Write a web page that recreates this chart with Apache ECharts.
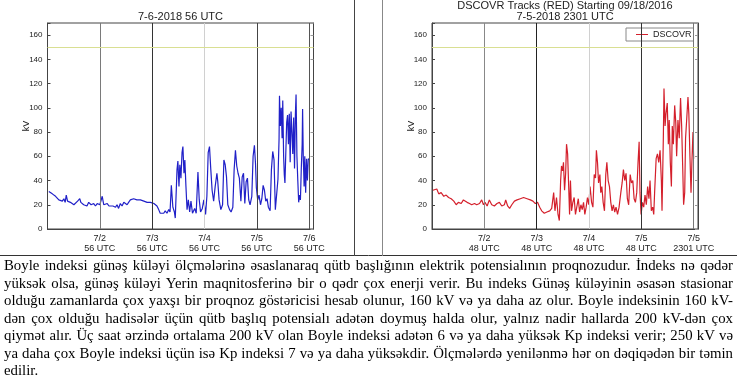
<!DOCTYPE html>
<html><head><meta charset="utf-8">
<script src="https://cdn.jsdelivr.net/npm/echarts@6/dist/echarts.min.js"></script>
<style>
html,body{margin:0;padding:0;background:#fff;}
#chart{position:absolute;left:0;top:0;width:737px;height:376px;}
#para{position:absolute;left:4px;top:257px;width:729px;font-family:"Liberation Serif","Times New Roman",serif;font-size:14.8px;line-height:17.5px;color:#000;}
#para div{white-space:nowrap;height:17.5px;}
#para span{display:inline-block;white-space:pre;}
</style></head><body>
<div id="chart"></div>
<div id="para"></div>
<script>
// ---- data ----
const tickHours = [24, 48, 72, 96, 120];
const leftTickLabels = ['7/2\n56 UTC', '7/3\n56 UTC', '7/4\n56 UTC', '7/5\n56 UTC', '7/6\n56 UTC'];
const rightTickLabels = ['7/2\n48 UTC', '7/3\n48 UTC', '7/4\n48 UTC', '7/5\n48 UTC', '7/5\n2301 UTC'];
const leftTitle = '7-6-2018 56 UTC';
const rightTitle1 = 'DSCOVR Tracks (RED) Starting 09/18/2016';
const rightTitle2 = '7-5-2018 2301 UTC';
const thresholdKV = 150;

const leftHours = [
0.6,1.4,2.2,2.9,3.7,4.5,5.2,6.0,6.8,7.5,
8.1,8.6,9.2,9.8,10.5,11.3,12.1,12.9,13.8,14.8,
15.3,15.9,16.6,17.4,18.1,18.9,20.0,21.2,22.0,22.8,
23.5,24.0,24.6,25.1,25.8,26.6,27.4,28.2,28.9,30.0,
31.2,31.9,32.6,33.4,34.2,35.0,35.7,36.5,37.2,38.0,
38.8,39.5,40.3,41.0,41.8,42.6,43.4,44.2,44.9,45.7,
46.4,47.2,48.0,48.8,49.5,50.2,51.0,51.7,52.5,53.3,
54.0,54.8,55.6,56.2,
56.8,57.5,58.2,58.6,59.4,59.8,60.3,60.7,61.2,61.7,
62.1,62.6,63.0,63.5,64.0,64.6,65.2,65.8,66.5,67.5,
68.2,69.0,69.6,70.2,71.0,71.7,72.5,73.1,73.7,74.3,
74.9,75.5,76.2,76.9,77.7,78.1,78.7,79.5,80.3,80.9,
81.5,82.1,82.7,83.5,84.2,85.0,85.6,86.2,86.8,87.4,
88.0,88.7,89.3,89.9,90.5,91.1,91.7,92.3,92.9,93.7,
94.3,94.9,95.4,95.8,96.4,97.0,97.7,98.3,98.9,99.5,
100.1,100.7,101.3,102.1,102.7,103.3,103.9,104.5,105.1,105.7,
106.2,106.4,106.8,107.2,107.6,107.9,108.3,108.6,108.9,109.3,
109.7,110.1,110.5,110.9,111.3,111.7,112.1,112.5,112.9,113.3,
113.7,114.0,114.4,114.8,115.2,115.6,116.0,116.4,116.8,117.0,
117.3,117.7,118.0,118.4,118.8,119.2,119.6,120.0
];
const leftKV = [
31,31,29,30,27,26,24,24,23,25,
22,28,23,24,22,23,20,21,23,25,
22,23,20,21,19,22,20,21,19,21,
20,20,19,27,20,21,21,19,20,19,
18,20,17,21,19,22,23,20,22,24,
23,25,26,24,25,24,25,23,24,22,
23,22,23,21,21,19,16,13,14,13,
15,13,16,14,
36,18,14,9,49,56,35,53,42,63,
68,46,57,35,16,24,14,23,13,17,
13,47,24,14,17,24,12,27,63,68,
49,32,23,35,46,39,24,16,20,57,
53,43,20,16,14,18,49,65,52,46,
42,23,43,46,21,39,42,24,20,27,
60,69,54,34,24,28,20,25,36,32,
23,25,18,15,49,64,57,16,17,41,
74,110,85,100,75,106,60,45,38,63,
88,94,70,95,55,97,80,62,92,50,
95,111,60,40,22,28,24,50,70,99,
60,35,60,30,58,40,58,57
];

const rightHours = [
0.4,1.2,2.2,3.1,4.2,5.4,6.5,7.6,8.8,10.0,
11.1,12.1,13.4,14.4,15.2,16.1,17.2,18.2,19.5,20.5,
21.8,22.8,23.6,24.3,25.3,26.3,27.4,28.6,29.8,30.9,
32.0,33.2,33.8,34.7,35.6,36.6,37.8,39.0,40.5,42.0,
43.6,45.1,46.3,47.4,48.4,49.4,50.3,51.5,52.7,54.0,
54.9,55.8,56.4,57.1,57.8,58.4,59.0,59.4,59.9,60.3,
60.8,61.3,61.7,62.2,62.6,63.1,63.5,64.0,64.6,65.2,
65.8,66.4,67.1,67.7,68.3,68.9,69.5,70.1,70.7,71.3,
71.9,72.5,73.2,73.8,74.4,75.0,75.4,75.9,76.4,77.0,
77.4,77.9,78.5,79.1,79.7,80.2,80.8,81.4,82.0,82.6,
83.2,83.8,84.4,85.1,85.8,86.6,87.2,87.8,88.4,89.0,
89.6,90.2,90.9,91.5,92.1,92.7,93.3,93.9,94.5,95.0,
95.4,95.9,96.5,97.1,97.7,98.3,98.9,99.5,100.0,100.6,
101.2,101.7,102.1,102.8,103.4,104.0,104.6,105.2,105.5,106.1,
106.4,106.9,107.3,107.9,108.4,108.8,109.3,109.8,110.2,110.7,
111.3,111.8,112.2,112.8,113.4,114.0,114.5,115.0,115.4,115.9,
116.3,116.8,117.4,117.8,118.3,118.8,119.2,119.7,120.0
];
const rightKV = [
32,31,33,29,30,27,28,26,25,23,
20,22,21,24,25,22,21,20,21,20,
21,24,20,22,19,24,20,19,21,22,
19,20,24,19,17,20,23,24,25,26,
25,24,23,21,22,18,15,13,14,15,
17,30,15,26,12,7,40,52,48,55,
32,46,70,62,40,12,40,15,22,26,
12,18,25,14,20,16,22,12,18,26,
20,35,22,18,45,42,65,55,38,45,
30,35,22,15,45,55,40,35,22,15,
20,14,18,12,18,30,38,49,40,46,
25,20,45,38,40,25,22,30,55,72,
30,12,22,18,28,20,35,25,40,15,
18,12,30,58,62,55,65,40,15,75,
116,85,95,104,70,90,55,35,85,70,
102,88,60,90,75,108,85,50,20,30,
75,90,109,95,60,30,55,80,58
];

const paraLines = [
'Boyle indeksi günəş küləyi ölçmələrinə əsaslanaraq qütb başlığının elektrik potensialının proqnozudur. İndeks nə qədər',
'yüksək olsa, günəş küləyi Yerin maqnitosferinə bir o qədr çox enerji verir. Bu indeks Günəş küləyinin əsasən stasionar',
'olduğu zamanlarda çox yaxşı bir proqnoz göstəricisi hesab olunur, 160 kV və ya daha az olur. Boyle indeksinin 160 kV-',
'dən çox olduğu hadisələr üçün qütb başlıq potensialı adətən doymuş halda olur, yalnız nadir hallarda 200 kV-dən çox',
'qiymət alır. Üç saat ərzində ortalama 200 kV olan Boyle indeksi adətən 6 və ya daha yüksək Kp indeksi verir; 250 kV və',
'ya daha çox Boyle indeksi üçün isə Kp indeksi 7 və ya daha yüksəkdir. Ölçmələrdə yenilənmə hər on dəqiqədən bir təmin',
'edilir.'
];

// ---- styles ----
const leftLineColors = ['#7a7a7a', '#333333', '#d0d0d0', '#444444', '#555555'];
const rightLineColors = ['#888888', '#222222', '#d0d0d0', '#333333', '#777777'];
const FONT = '"Liberation Sans", Arial, Helvetica, sans-serif';
const PARA_W = 729;

const para = document.getElementById('para');
paraLines.forEach((t, i) => {
  const d = document.createElement('div');
  const s = document.createElement('span');
  s.textContent = t;
  d.appendChild(s);
  para.appendChild(d);
  if (i < paraLines.length - 1) {
    const w = s.getBoundingClientRect().width;
    const gaps = (t.match(/ /g) || []).length;
    if (gaps > 0) s.style.wordSpacing = ((PARA_W - w) / gaps) + 'px';
  }
});

function xAxisCfg(gi, labels) {
  return {
    type: 'value', gridIndex: gi, min: 0, max: 122, interval: 24,
    axisLine: {show: true, onZero: false, lineStyle: {color: '#444', width: 1}},
    axisTick: {show: true, inside: true, length: 3, lineStyle: {color: '#444'}},
    splitLine: {show: false},
    axisLabel: {
      margin: 5, fontSize: 9, lineHeight: 9.5, color: '#222', fontFamily: FONT,
      formatter: v => { const i = tickHours.indexOf(v); return i >= 0 ? labels[i] : ''; }
    }
  };
}
function yAxisCfg(gi) {
  return {
    type: 'value', gridIndex: gi, min: 0, max: 170, interval: 20,
    name: 'kV', nameLocation: 'middle', nameGap: 16, nameRotate: 90, nameMoveOverlap: false,
    nameTextStyle: {fontSize: 9, color: '#222', fontFamily: FONT},
    axisLine: {show: true, lineStyle: {color: '#444', width: 1}},
    axisTick: {show: true, inside: true, length: 3, lineStyle: {color: '#444'}},
    splitLine: {show: false},
    axisLabel: {margin: 5, fontSize: 8, color: '#222', fontFamily: FONT,
      formatter: v => (v % 20 === 0 && v <= 160) ? String(v) : ''}
  };
}
function yAxisRight(gi) {
  return {
    type: 'value', gridIndex: gi, min: 0, max: 170, interval: 20, position: 'right',
    axisLine: {show: true, lineStyle: {color: '#444', width: 1}},
    axisTick: {show: true, inside: true, length: 3, lineStyle: {color: '#999'}},
    axisLabel: {show: false}, splitLine: {show: false}
  };
}
function marks(colors) {
  return {
    silent: true, symbol: ['none', 'none'], label: {show: false}, animation: false,
    data: tickHours.map((h, i) => ({xAxis: h, lineStyle: {color: colors[i], width: 1, type: 'solid'}}))
      .concat([{yAxis: thresholdKV, lineStyle: {color: '#d9df92', width: 1, type: 'solid'}}])
  };
}

const chart = echarts.init(document.getElementById('chart'));
chart.setOption({
  animation: false,
  grid: [
    {left: 47.5, top: 23, width: 266, height: 206, show: true, borderColor: '#444', borderWidth: 1},
    {left: 432, top: 23, width: 266, height: 206, show: true, borderColor: '#444', borderWidth: 1}
  ],
  xAxis: [xAxisCfg(0, leftTickLabels), xAxisCfg(1, rightTickLabels)],
  yAxis: [yAxisCfg(0), yAxisCfg(1), yAxisRight(0), yAxisRight(1)],
  legend: {
    data: ['DSCOVR'], left: 626, top: 28, backgroundColor: '#fff',
    borderColor: '#888', borderWidth: 1, padding: [2, 2, 2, 10],
    itemWidth: 12, itemHeight: 1, icon: 'rect',
    textStyle: {fontSize: 9, color: '#222', fontFamily: FONT}
  },
  series: [
    {name: 'Boyle', type: 'line', xAxisIndex: 0, yAxisIndex: 0, showSymbol: false,
     data: leftHours.map((h, i) => [h, leftKV[i]]),
     lineStyle: {color: '#2020c8', width: 1.2}, itemStyle: {color: '#2020c8'},
     markLine: marks(leftLineColors)},
    {name: 'DSCOVR', type: 'line', xAxisIndex: 1, yAxisIndex: 1, showSymbol: false,
     data: rightHours.map((h, i) => [h, rightKV[i]]),
     lineStyle: {color: '#d4202c', width: 1.2}, itemStyle: {color: '#d4202c'},
     markLine: marks(rightLineColors)}
  ],
  graphic: [
    {type: 'text', x: 180.5, y: 17, style: {text: leftTitle, align: 'center', verticalAlign: 'middle', fontSize: 11, fontFamily: FONT, fill: '#222'}},
    {type: 'text', x: 565, y: 6, style: {text: rightTitle1, align: 'center', verticalAlign: 'middle', fontSize: 11, fontFamily: FONT, fill: '#222'}},
    {type: 'text', x: 565, y: 17, style: {text: rightTitle2, align: 'center', verticalAlign: 'middle', fontSize: 11, fontFamily: FONT, fill: '#222'}},
    {type: 'line', shape: {x1: 0, y1: 255.5, x2: 737, y2: 255.5}, style: {stroke: '#333', lineWidth: 1}},
    {type: 'line', shape: {x1: 354.5, y1: 0, x2: 354.5, y2: 256}, style: {stroke: '#444', lineWidth: 1}},
    {type: 'line', shape: {x1: 382.5, y1: 0, x2: 382.5, y2: 256}, style: {stroke: '#888', lineWidth: 1}}
  ]
});
</script>
</body></html>
